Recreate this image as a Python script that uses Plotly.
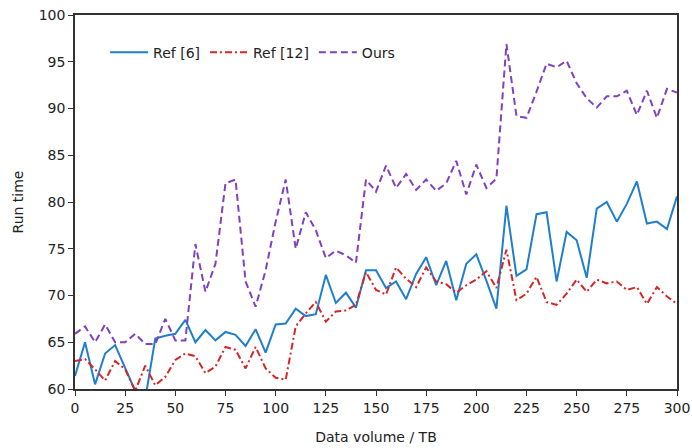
import plotly.graph_objects as go

# Data volume (TB), sampled every 5 TB
volume_tb = list(range(0, 301, 5))

# Run time of each method
ref6 = [61.4, 65.0, 60.5, 63.8, 64.7, 62.3, 59.8, 58.9, 65.4, 65.7,
        65.9, 67.4, 65.0, 66.3, 65.2, 66.1, 65.8, 64.6, 66.4, 63.9,
        66.9, 67.0, 68.6, 67.8, 68.0, 72.2, 69.2, 70.3, 68.7, 72.7,
        72.7, 70.8, 71.5, 69.6, 72.3, 74.1, 71.1, 73.7, 69.5, 73.4,
        74.4, 71.6, 68.6, 79.6, 72.1, 72.8, 78.7, 78.9, 71.5, 76.8,
        75.9, 71.9, 79.3, 80.0, 77.9, 79.8, 82.2, 77.7, 77.9, 77.1,
        80.6]

ref12 = [63.0, 63.2, 62.1, 60.9, 63.0, 62.1, 59.8, 62.5, 60.4, 61.3,
         63.1, 63.8, 63.5, 61.7, 62.4, 64.5, 64.2, 62.2, 64.5, 62.2,
         61.2, 61.0, 66.7, 68.1, 69.3, 67.2, 68.3, 68.4, 69.0, 72.5,
         70.6, 70.1, 73.0, 71.8, 70.9, 73.0, 71.5, 71.2, 70.3, 71.1,
         71.7, 72.6, 70.8, 74.9, 69.5, 70.2, 72.0, 69.3, 69.0, 70.2,
         71.7, 70.4, 71.7, 71.3, 71.5, 70.6, 70.9, 69.1, 70.9, 69.9,
         69.1]

ours = [65.9, 66.7, 65.0, 66.9, 65.0, 65.0, 65.9, 64.8, 64.8, 67.5,
        65.2, 65.2, 75.5, 70.4, 73.4, 82.0, 82.4, 71.5, 68.8, 72.7,
        77.9, 82.4, 75.0, 78.9, 77.0, 74.0, 74.8, 74.3, 73.5, 82.4,
        81.1, 83.9, 81.5, 83.0, 81.3, 82.4, 81.2, 82.0, 84.4, 80.8,
        84.0, 81.5, 82.5, 96.9, 89.2, 89.0, 91.8, 94.8, 94.4, 95.1,
        92.7, 91.1, 90.1, 91.3, 91.3, 91.9, 89.3, 91.9, 89.0, 92.1,
        91.7]

x_ticks = list(range(0, 301, 25))
y_ticks = list(range(60, 101, 5))

font_family = "DejaVu Sans, Verdana, sans-serif"
ink = "#222222"

fig = go.Figure()
fig.add_trace(go.Scatter(x=volume_tb, y=ref6, mode="lines", name="Ref [6]",
                         line=dict(color="#1f7fcc", width=2)))
fig.add_trace(go.Scatter(x=volume_tb, y=ref12, mode="lines", name="Ref [12]",
                         line=dict(color="#d42626", width=2,
                                   dash="7px,3px,2px,3px")))
fig.add_trace(go.Scatter(x=volume_tb, y=ours, mode="lines", name="Ours",
                         line=dict(color="#8040bf", width=2, dash="7px,4px")))

axis_common = dict(
    showline=True, linecolor="#333333", linewidth=1.5, mirror=True,
    ticks="outside", ticklen=5, tickcolor="#333333", tickwidth=1.2,
    showgrid=False, zeroline=False, automargin=False,
    tickfont=dict(family=font_family, size=14, color=ink),
)

fig.update_xaxes(range=[0, 300], tickvals=x_ticks,
                 title=dict(text="Data volume / TB", standoff=18,
                            font=dict(family=font_family, size=14, color=ink)),
                 **axis_common)
fig.update_yaxes(range=[60, 100], tickvals=y_ticks,
                 title=dict(text="Run time", standoff=12,
                            font=dict(family=font_family, size=14, color=ink)),
                 **axis_common)

fig.update_layout(
    width=692, height=448,
    margin=dict(l=75, r=15, t=15, b=59),
    paper_bgcolor="white", plot_bgcolor="white",
    font=dict(family=font_family, size=14, color=ink),
    legend=dict(orientation="h", x=0.05, y=0.942, xanchor="left", yanchor="top",
                bgcolor="rgba(0,0,0,0)", font=dict(size=14, color=ink),
                itemwidth=38, tracegroupgap=0),
    showlegend=True,
)

fig.write_html("out.html")
